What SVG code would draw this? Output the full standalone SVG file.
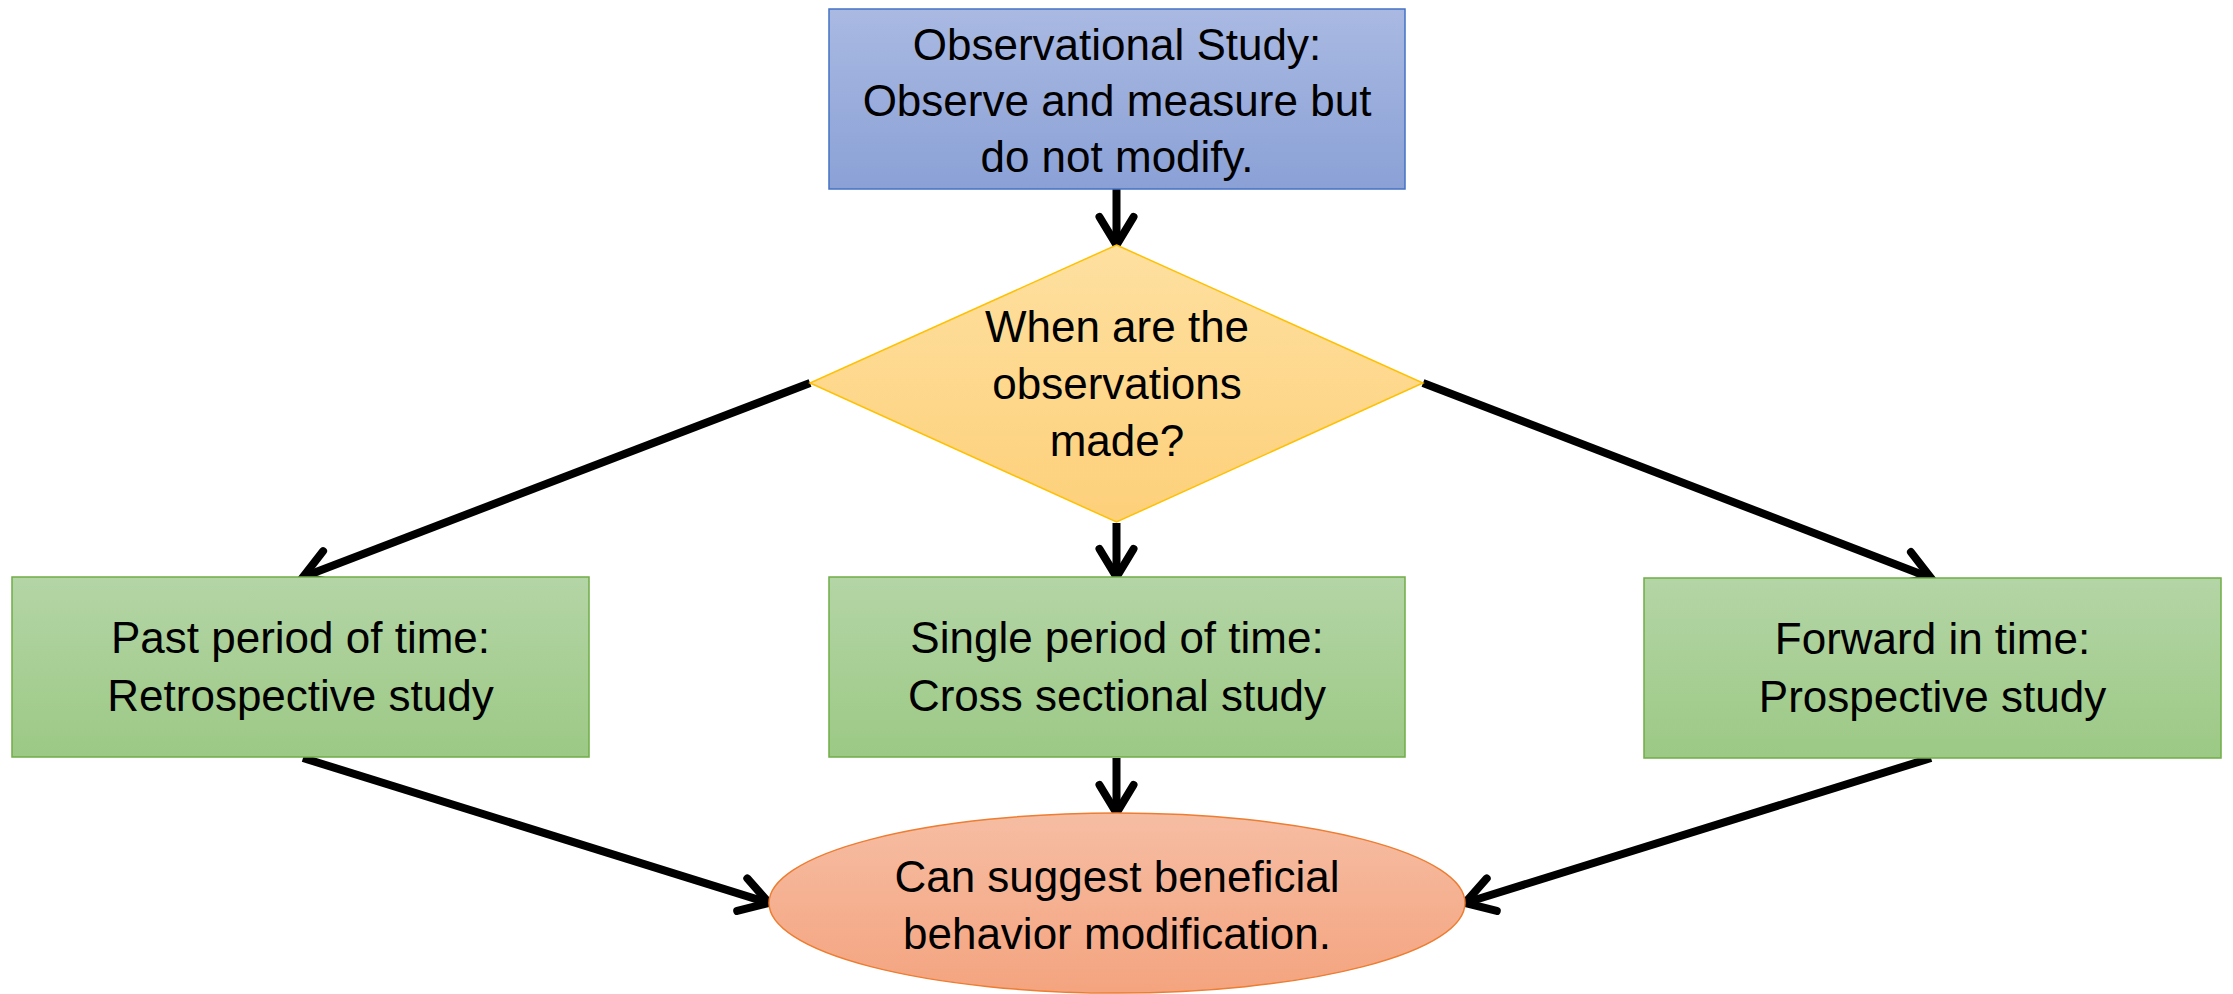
<svg xmlns="http://www.w3.org/2000/svg" width="2233" height="994" viewBox="0 0 2233 994">
<defs>
<linearGradient id="gBlue" x1="0" y1="0" x2="0" y2="1"><stop offset="0" stop-color="#a9b9e2"/><stop offset="1" stop-color="#8ba1d6"/></linearGradient>
<linearGradient id="gYellow" x1="0" y1="0" x2="0" y2="1"><stop offset="0" stop-color="#fee0a0"/><stop offset="1" stop-color="#fdd07a"/></linearGradient>
<linearGradient id="gGreen" x1="0" y1="0" x2="0" y2="1"><stop offset="0" stop-color="#b4d5a6"/><stop offset="1" stop-color="#9cc985"/></linearGradient>
<linearGradient id="gOrange" x1="0" y1="0" x2="0" y2="1"><stop offset="0" stop-color="#f6bda3"/><stop offset="1" stop-color="#f4a47f"/></linearGradient>
<marker id="arr" markerUnits="userSpaceOnUse" viewBox="-40 -25 50 50" refX="-3" refY="0" markerWidth="50" markerHeight="50" orient="auto">
<path d="M-31,-17 L-3,0 L-31,17" fill="none" stroke="#000" stroke-width="8" stroke-linecap="round" stroke-linejoin="miter"/>
</marker>
<style>
.t{font-family:"Liberation Sans",Arial,sans-serif;font-size:44px;fill:#000;text-anchor:middle}
.c{fill:none;stroke:#000;stroke-width:8;marker-end:url(#arr)}
</style>
</defs>
<rect width="2233" height="994" fill="#fff"/>
<g id="connectors">
<line class="c" x1="1116.5" y1="189" x2="1116.5" y2="245"/>
<line class="c" x1="810" y1="383" x2="303" y2="577"/>
<line class="c" x1="1116.5" y1="523" x2="1116.5" y2="577"/>
<line class="c" x1="1423" y1="383" x2="1931" y2="578"/>
<line class="c" x1="303" y1="758" x2="769" y2="903"/>
<line class="c" x1="1116.5" y1="758" x2="1116.5" y2="813"/>
<line class="c" x1="1931" y1="758" x2="1465" y2="903"/>
</g>
<g id="observational">
<rect x="829" y="9" width="576" height="180" fill="url(#gBlue)" stroke="#4472c4" stroke-width="1.5"/>
<text class="t" x="1117" y="60">Observational Study:</text>
<text class="t" x="1117" y="116">Observe and measure but</text>
<text class="t" x="1117" y="172">do not modify.</text>
</g>
<g id="decision">
<polygon points="1116.5,245 1423,383 1116.5,522 810,383" fill="url(#gYellow)" stroke="#ffc000" stroke-width="1.5"/>
<text class="t" x="1117" y="342">When are the</text>
<text class="t" x="1117" y="399">observations</text>
<text class="t" x="1117" y="456">made?</text>
</g>
<g id="retrospective">
<rect x="12" y="577" width="577" height="180" fill="url(#gGreen)" stroke="#70ad47" stroke-width="1.5"/>
<text class="t" x="300.5" y="653">Past period of time:</text>
<text class="t" x="300.5" y="711">Retrospective study</text>
</g>
<g id="crosssectional">
<rect x="829" y="577" width="576" height="180" fill="url(#gGreen)" stroke="#70ad47" stroke-width="1.5"/>
<text class="t" x="1117" y="653">Single period of time:</text>
<text class="t" x="1117" y="711">Cross sectional study</text>
</g>
<g id="prospective">
<rect x="1644" y="578" width="577" height="180" fill="url(#gGreen)" stroke="#70ad47" stroke-width="1.5"/>
<text class="t" x="1932.5" y="654">Forward in time:</text>
<text class="t" x="1932.5" y="712">Prospective study</text>
</g>
<g id="outcome">
<ellipse cx="1117" cy="903" rx="348" ry="90" fill="url(#gOrange)" stroke="#ed7d31" stroke-width="1.5"/>
<text class="t" x="1117" y="892">Can suggest beneficial</text>
<text class="t" x="1117" y="949">behavior modification.</text>
</g>
</svg>
